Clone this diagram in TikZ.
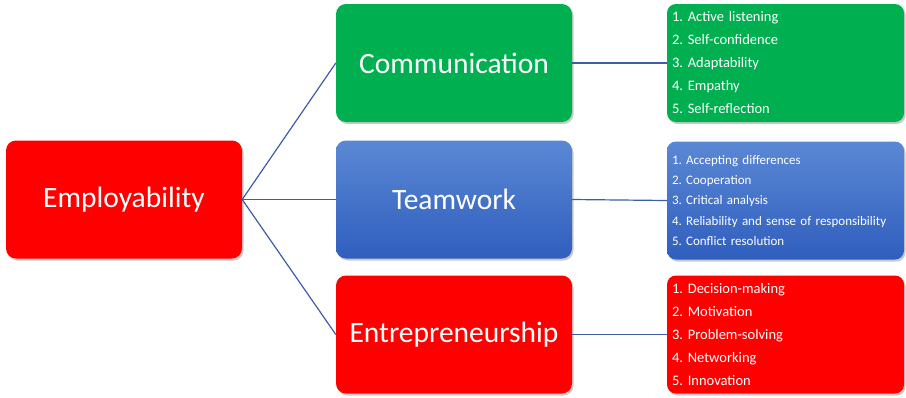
\documentclass[tikz,border=0pt]{standalone}
\usepackage{fontspec}
\setmainfont{Carlito}
\usetikzlibrary{shadows}
\definecolor{cgreen}{HTML}{00B050}
\definecolor{cred}{HTML}{FF0000}
\definecolor{btop}{HTML}{5B88D4}
\definecolor{bbot}{HTML}{2F5EBE}
\definecolor{lineblue}{HTML}{3A5EA8}
\begin{document}
\frenchspacing
\begin{tikzpicture}[x=1pt,y=-1pt,
  mainbox/.style={rectangle,rounded corners=10pt,minimum width=236pt,minimum height=118pt,
    text=white,font=\fontsize{29.5}{35}\selectfont,inner sep=0pt,
    drop shadow={shadow xshift=1.5pt,shadow yshift=-2pt,opacity=0.35,fill=black!60}},
  listbox/.style={rectangle,rounded corners=9pt,minimum width=237pt,minimum height=118pt,
    text=white,align=left,text width=227pt,inner xsep=5pt,inner ysep=0pt,
    drop shadow={shadow xshift=1.5pt,shadow yshift=-2pt,opacity=0.35,fill=black!60}},
  bigfont/.style={font=\frenchspacing\fontsize{14.5}{23}\selectfont},
  smallfont/.style={font=\frenchspacing\fontsize{13}{20.3}\selectfont},
  greenfill/.style={fill=cgreen},
  redfill/.style={fill=cred},
  bluefill/.style={top color=btop,bottom color=bbot},
  conn/.style={draw=lineblue,line width=1.2pt}
]
\useasboundingbox (0,0) rectangle (906,397);
\node[mainbox,redfill] (emp) at (124,199.5) {Employability};
\node[mainbox,greenfill] (com) at (454,63) {Communication};
\node[mainbox,bluefill] (team) at (454,199.5) {Teamwork};
\node[mainbox,redfill] (ent) at (454,334.5) {Entrepreneurship};
\node[listbox,greenfill,bigfont] (l1) at (785.5,63) {1. Active listening\\2. Self-confidence\\3. Adaptability\\4. Empathy\\5. Self-reflection};
\node[listbox,bluefill,smallfont] (l2) at (785.5,200.5) {1. Accepting differences\\2. Cooperation\\3. Critical analysis\\4. Reliability and sense of responsibility\\5. Conflict resolution};
\node[listbox,redfill,bigfont] (l3) at (785.5,334.5) {1. Decision-making\\2. Motivation\\3. Problem-solving\\4. Networking\\5. Innovation};
\draw[conn] (emp.east) -- (com.west);
\draw[conn] (emp.east) -- (team.west);
\draw[conn] (emp.east) -- (ent.west);
\draw[conn] (com.east) -- (l1.west);
\draw[conn] (team.east) -- (l2.west);
\draw[conn] (ent.east) -- (l3.west);
\end{tikzpicture}
\end{document}
